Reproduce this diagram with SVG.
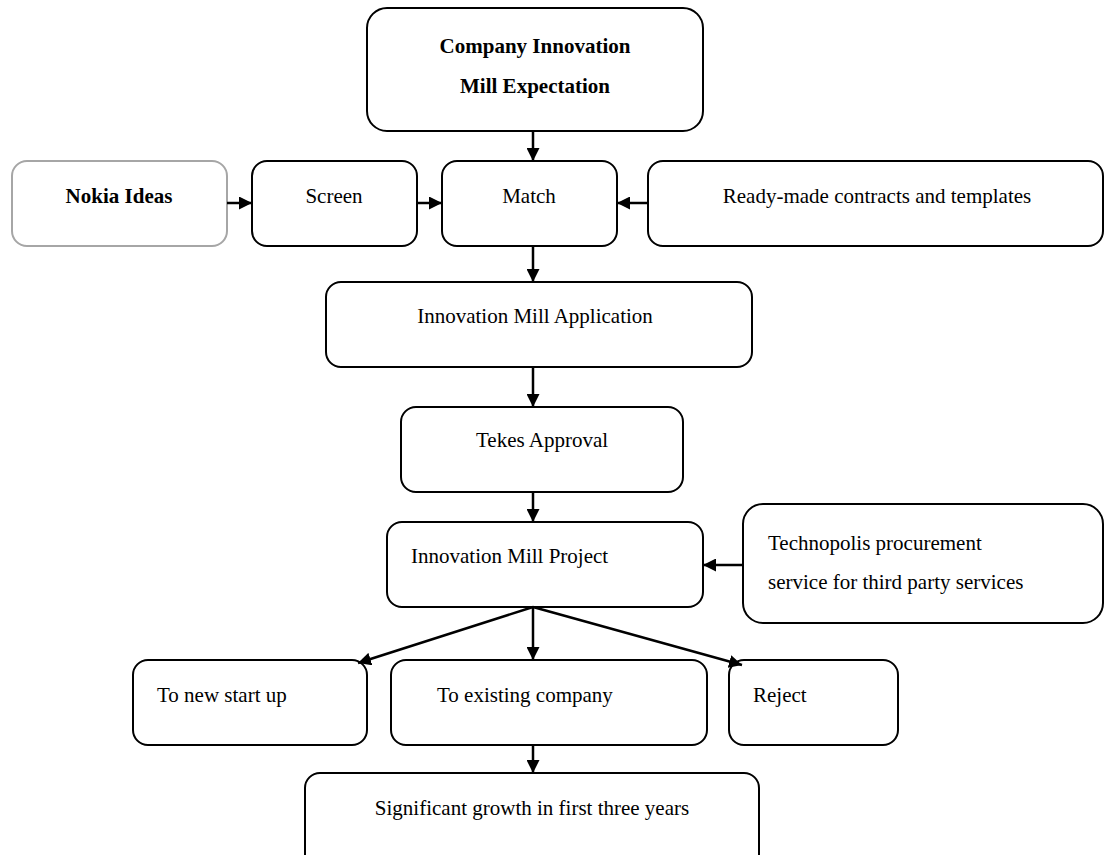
<svg xmlns="http://www.w3.org/2000/svg" width="1105" height="855" viewBox="0 0 1105 855">
<defs>
<marker id="ah" markerUnits="userSpaceOnUse" markerWidth="13" markerHeight="13" refX="13" refY="6.5" orient="auto">
<path d="M0,0 L13,6.5 L0,13 z" fill="#000"/>
</marker>
<style>
.box{fill:#fff;stroke:#000;stroke-width:2}
.gray{fill:#fff;stroke:#a6a6a6;stroke-width:2}
.t{font-family:"Liberation Serif","Times New Roman",serif;font-size:21px;fill:#000}
.b{font-weight:bold}
.c{text-anchor:middle}
.con line{stroke:#000;stroke-width:2.5;marker-end:url(#ah)}
</style>
</defs>
<rect width="1105" height="855" fill="#fff"/>
<g id="expectation">
<rect class="box" x="367" y="8" width="336" height="123" rx="20"/>
<text class="t b c" x="535" y="53">Company Innovation</text>
<text class="t b c" x="535" y="93">Mill Expectation</text>
</g>
<g id="nokia">
<rect class="gray" x="12" y="161" width="215" height="85" rx="15"/>
<text class="t b c" x="119" y="203">Nokia Ideas</text>
</g>
<g id="screen">
<rect class="box" x="252" y="161" width="165" height="85" rx="15"/>
<text class="t c" x="334" y="203">Screen</text>
</g>
<g id="match">
<rect class="box" x="442" y="161" width="175" height="85" rx="15"/>
<text class="t c" x="529" y="203">Match</text>
</g>
<g id="contracts">
<rect class="box" x="648" y="161" width="455" height="85" rx="15"/>
<text class="t c" x="877" y="203">Ready-made contracts and templates</text>
</g>
<g id="application">
<rect class="box" x="326" y="282" width="426" height="85" rx="15"/>
<text class="t c" x="535" y="323">Innovation Mill Application</text>
</g>
<g id="tekes">
<rect class="box" x="401" y="407" width="282" height="85" rx="15"/>
<text class="t c" x="542" y="447">Tekes Approval</text>
</g>
<g id="project">
<rect class="box" x="387" y="522" width="316" height="85" rx="15"/>
<text class="t" x="411" y="563">Innovation Mill Project</text>
</g>
<g id="technopolis">
<rect class="box" x="743" y="504" width="360" height="119" rx="20"/>
<text class="t" x="768" y="550">Technopolis procurement</text>
<text class="t" x="768" y="589">service for third party services</text>
</g>
<g id="startup">
<rect class="box" x="133" y="660" width="234" height="85" rx="15"/>
<text class="t" x="157" y="702">To new start up</text>
</g>
<g id="existing">
<rect class="box" x="391" y="660" width="316" height="85" rx="15"/>
<text class="t" x="437" y="702">To existing company</text>
</g>
<g id="reject">
<rect class="box" x="729" y="660" width="169" height="85" rx="15"/>
<text class="t" x="753" y="702">Reject</text>
</g>
<g id="growth">
<rect class="box" x="305" y="773" width="454" height="100" rx="15"/>
<text class="t c" x="532" y="815">Significant growth in first three years</text>
</g>
<g id="connectors" class="con">
<line x1="533" y1="131" x2="533" y2="161"/>
<line x1="227" y1="203" x2="252" y2="203"/>
<line x1="417" y1="203" x2="442" y2="203"/>
<line x1="648" y1="203" x2="617" y2="203"/>
<line x1="533" y1="246" x2="533" y2="282"/>
<line x1="533" y1="367" x2="533" y2="407"/>
<line x1="533" y1="492" x2="533" y2="522"/>
<line x1="743" y1="565" x2="703" y2="565"/>
<line x1="533" y1="607" x2="358" y2="663"/>
<line x1="533" y1="607" x2="533" y2="660"/>
<line x1="533" y1="607" x2="742" y2="665"/>
<line x1="533" y1="745" x2="533" y2="773"/>
</g>
</svg>
